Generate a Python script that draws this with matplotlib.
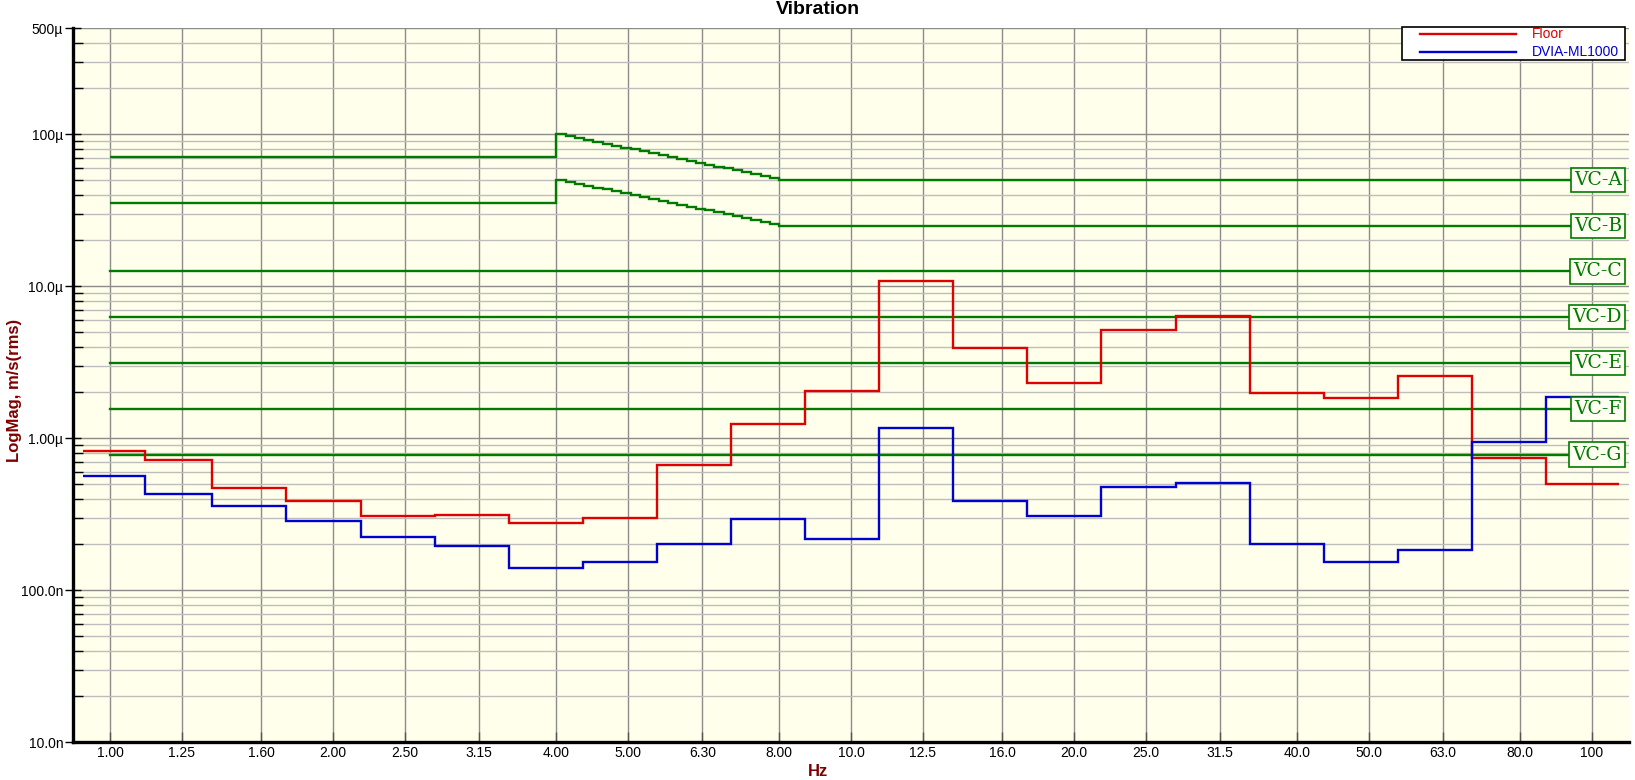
import numpy as np
import matplotlib
matplotlib.use("Agg")
import matplotlib.pyplot as plt
import matplotlib.transforms as mtransforms
from matplotlib.patches import Rectangle
from matplotlib.lines import Line2D
from matplotlib.ticker import FixedLocator, NullLocator, NullFormatter

# 1/3 octave band centre labels (Hz)
band_freqs = [1.00, 1.25, 1.60, 2.00, 2.50, 3.15, 4.00, 5.00, 6.30, 8.00, 10.0,
              12.5, 16.0, 20.0, 25.0, 31.5, 40.0, 50.0, 63.0, 80.0, 100.0]
band_labels = ["1.00", "1.25", "1.60", "2.00", "2.50", "3.15", "4.00", "5.00", "6.30",
               "8.00", "10.0", "12.5", "16.0", "20.0", "25.0", "31.5", "40.0", "50.0",
               "63.0", "80.0", "100"]

# band edges as drawn by the analyser (Hz)
band_edges = [0.92, 1.113, 1.374, 1.730, 2.178, 2.742, 3.451, 4.345, 5.47, 6.887, 8.670,
              10.91, 13.74, 17.30, 21.78, 27.42, 34.51, 43.45, 54.70, 68.87, 86.70, 108.9]

# velocity, m/s rms
floor_vel = [0.818e-6, 0.714e-6, 0.469e-6, 0.384e-6, 0.308e-6, 0.312e-6, 0.277e-6,
             0.299e-6, 0.662e-6, 1.235e-6, 2.05e-6, 10.8e-6, 3.92e-6, 2.29e-6,
             5.13e-6, 6.38e-6, 1.98e-6, 1.85e-6, 2.56e-6, 0.744e-6, 0.497e-6]
dvia_vel = [0.567e-6, 0.426e-6, 0.357e-6, 0.284e-6, 0.224e-6, 0.196e-6, 0.140e-6,
            0.154e-6, 0.201e-6, 0.295e-6, 0.218e-6, 1.174e-6, 0.387e-6, 0.307e-6,
            0.474e-6, 0.505e-6, 0.200e-6, 0.153e-6, 0.183e-6, 0.946e-6, 1.86e-6]
series_names = ["Floor", "DVIA-ML1000"]

# VC criteria (um/s)
vc_names = ["VC-A", "VC-B", "VC-C", "VC-D", "VC-E", "VC-F", "VC-G"]
vc_levels = [50.0, 25.0, 12.5, 6.25, 3.12, 1.56, 0.78]
vc_low_a = 71.0     # VC-A below 4 Hz
vc_low_b = 35.5     # VC-B below 4 Hz
slope_edges = [4.00, 4.12, 4.24, 4.36, 4.49, 4.62, 4.76, 4.90, 5.04, 5.19, 5.34, 5.50,
               5.66, 5.83, 6.00, 6.17, 6.35, 6.54, 6.73, 6.93, 7.13, 7.34, 7.55, 7.78, 8.00]
vc_a_slope = [100, 97.2, 94.4, 91.7, 89.1, 86.6, 84.1, 81.7, 79.4, 77.1, 74.9, 72.8,
              70.7, 68.7, 66.7, 64.8, 63.0, 61.2, 59.5, 57.8, 56.1, 54.5, 53.0, 51.5]
vc_b_slope = [50.0, 48.6, 47.2, 45.9, 44.5, 43.3, 42.0, 40.8, 39.7, 38.6, 37.5, 36.4,
              35.4, 34.3, 33.4, 32.4, 31.5, 30.6, 29.7, 28.9, 28.1, 27.3, 26.5, 25.7]
vc_start, vc_end = 1.0, 105.0

RED = "#E00000"
BLUE = "#0000D0"
GREEN = "#007A00"
DARKRED = "#800000"
W, H = 1635, 780

fig = plt.figure(figsize=(W / 100, H / 100), dpi=100)
ax = fig.add_axes([0.0446, 0.0487, 0.9517, 0.9154])
ax.set_facecolor("#FFFFEB")
ax.set_xscale("log")
ax.set_yscale("log")
ax.set_xlim(0.891, 112.2)
ax.set_ylim(1e-8, 5e-4)

# ticks / grid
ax.set_xticks(band_freqs)
ax.set_xticklabels(band_labels)
ax.xaxis.set_minor_locator(NullLocator())

ymaj = [1e-8, 1e-7, 1e-6, 1e-5, 1e-4, 5e-4]
ylab = ["10.0n", "100.0n", "1.00\u00b5", "10.0\u00b5", "100\u00b5", "500\u00b5"]
ymin_ticks = [m * 10.0 ** e for e in range(-8, -3) for m in range(2, 10)]
ymin_ticks = [v for v in ymin_ticks if v < 5e-4]
ax.set_yticks(ymaj)
ax.set_yticklabels(ylab)
ax.yaxis.set_minor_locator(FixedLocator(ymin_ticks))
ax.yaxis.set_minor_formatter(NullFormatter())

ax.grid(True, which="major", axis="x", color="#8C8C8C", lw=1.0, zorder=0)
ax.grid(True, which="major", axis="y", color="#8C8C8C", lw=1.0, zorder=0)
ax.grid(True, which="minor", axis="y", color="#BDBDBD", lw=1.0, zorder=0)
ax.set_axisbelow(True)

for s in ["top", "right"]:
    ax.spines[s].set_visible(False)
for s in ["left", "bottom"]:
    ax.spines[s].set_linewidth(2.4)
    ax.spines[s].set_color("black")

ax.tick_params(axis="x", which="major", direction="in", length=7, width=1,
               color="#555555", labelsize=10, pad=3)
ax.tick_params(axis="y", which="major", direction="inout", length=12, width=1,
               color="black", labelsize=10, pad=1)
ax.tick_params(axis="y", which="minor", direction="in", length=7, width=1, color="black")

# VC criteria lines
vc_a_edges = [vc_start] + slope_edges + [vc_end]
vc_a_vals = [vc_low_a] + vc_a_slope + [vc_levels[0]]
vc_b_vals = [vc_low_b] + vc_b_slope + [vc_levels[1]]
ax.stairs(np.array(vc_a_vals) * 1e-6, vc_a_edges, baseline=None, color=GREEN, lw=1.7, zorder=3)
ax.stairs(np.array(vc_b_vals) * 1e-6, vc_a_edges, baseline=None, color=GREEN, lw=1.7, zorder=3)
for lvl in vc_levels[2:]:
    ax.plot([vc_start, vc_end], [lvl * 1e-6, lvl * 1e-6], color=GREEN, lw=1.7, zorder=3)

trans = mtransforms.blended_transform_factory(ax.transAxes, ax.transData)
for name, lvl in zip(vc_names, vc_levels):
    ax.text(0.9955, lvl * 1e-6, name, transform=trans, ha="right", va="center",
            color=GREEN, fontsize=13.5, family="DejaVu Serif", zorder=6,
            bbox=dict(boxstyle="square,pad=0.17", fc="#FFFFF2", ec=GREEN, lw=1.2))

# measured spectra
ax.stairs(floor_vel, band_edges, baseline=None, color=RED, lw=1.7, zorder=4)
ax.stairs(dvia_vel, band_edges, baseline=None, color=BLUE, lw=1.7, zorder=4)

# legend box drawn like the analyser's (pixel layout)
def fx(px):
    return px / W

def fy(py):
    return 1 - py / H

fig.patches.append(Rectangle((fx(1402), fy(60)), fx(1625) - fx(1402), fy(27) - fy(60),
                             transform=fig.transFigure, fc="white", ec="black", lw=1.2,
                             zorder=10))
for name, col, py in zip(series_names, [RED, BLUE], [34, 52]):
    fig.lines.append(Line2D([fx(1420), fx(1516)], [fy(py), fy(py)], transform=fig.transFigure,
                            color=col, lw=1.7, zorder=11))
    fig.text(fx(1532), fy(py), name, ha="left", va="center", color=col, fontsize=10,
             family="Liberation Sans", zorder=11)

fig.text(0.5, 1 - 10 / H, "Vibration", ha="center", va="center",
         fontsize=14, fontweight="bold", family="Liberation Sans")
fig.text(0.5, 1 - 771 / H, "Hz", ha="center", va="center",
         fontsize=12, fontweight="bold", color=DARKRED, family="Liberation Sans")
fig.text(15 / W, 1 - 390 / H, "LogMag, m/s(rms)", ha="center", va="center",
         rotation=90, fontsize=12, fontweight="bold", color=DARKRED, family="Liberation Sans")

for lbl in ax.get_xticklabels() + ax.get_yticklabels():
    lbl.set_family("Liberation Sans")

fig.savefig("out.png", dpi=100, facecolor="white")
